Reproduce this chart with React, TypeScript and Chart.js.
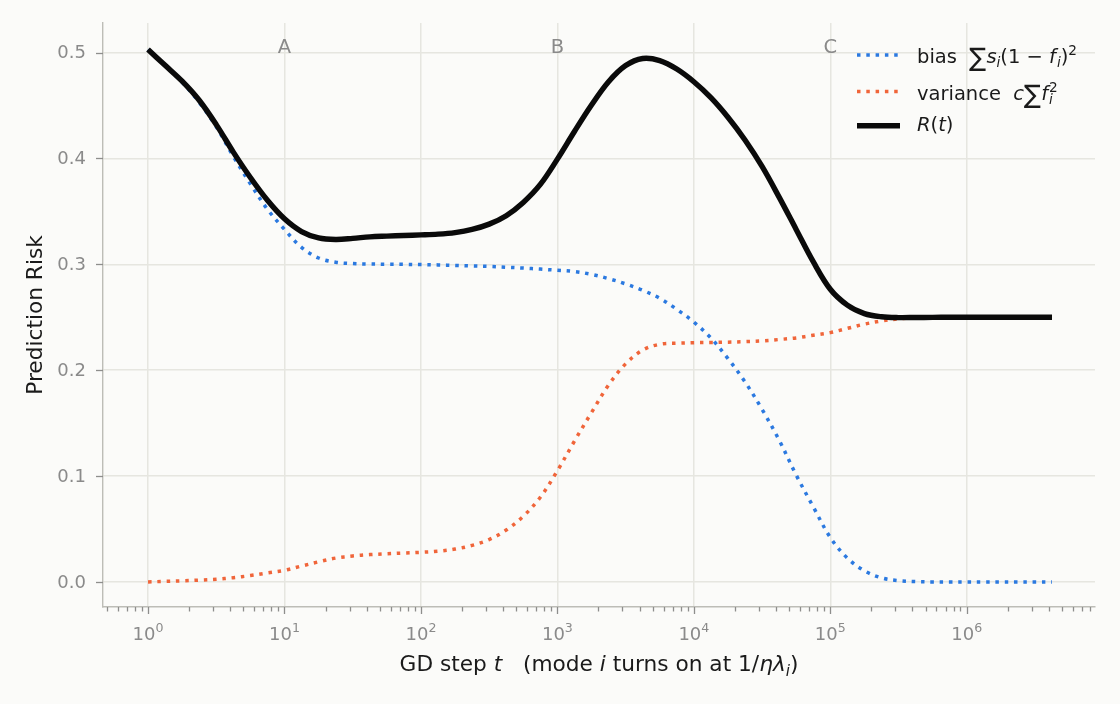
import React, { useEffect, useRef } from 'react';
import { Chart, registerables } from 'chart.js';

Chart.register(...registerables);

// ---- data (x given as log10 of the GD step t) ----
const logSteps = [
  0, 0.125, 0.25, 0.375, 0.5, 0.625, 0.75, 0.875,
  1, 1.125, 1.25, 1.375, 1.5, 1.625, 1.75, 1.875,
  2, 2.125, 2.25, 2.375, 2.5, 2.625, 2.75, 2.875,
  3, 3.125, 3.25, 3.375, 3.5, 3.625, 3.75, 3.875,
  4, 4.125, 4.25, 4.375, 4.5, 4.625, 4.75, 4.875,
  5, 5.125, 5.25, 5.375, 5.5, 5.625, 5.75, 5.875,
  6, 6.125, 6.25, 6.375, 6.5, 6.625,
];

const biasValues = [
  0.503, 0.488, 0.472, 0.453, 0.430, 0.402, 0.376, 0.352,
  0.333, 0.316, 0.306, 0.302, 0.3007, 0.3003, 0.3001, 0.300,
  0.2998, 0.2995, 0.299, 0.2985, 0.298, 0.2973, 0.2965, 0.2955,
  0.2944, 0.2932, 0.2905, 0.2865, 0.2815, 0.2755, 0.268, 0.2575,
  0.2455, 0.2305, 0.211, 0.189, 0.163, 0.134, 0.101, 0.071,
  0.042, 0.0225, 0.0105, 0.0038, 0.0012, 0.0003, 0, 0,
  0, 0, 0, 0, 0, 0,
];

const varianceValues = [
  0.0, 0.0005, 0.001, 0.0017, 0.0025, 0.004, 0.006, 0.0085,
  0.011, 0.015, 0.019, 0.0225, 0.0245, 0.0258, 0.0266, 0.0273,
  0.028, 0.029, 0.031, 0.0345, 0.040, 0.049, 0.062, 0.080,
  0.105, 0.133, 0.160, 0.186, 0.206, 0.219, 0.2245, 0.2255,
  0.226, 0.2262, 0.2265, 0.227, 0.2277, 0.229, 0.2305, 0.233,
  0.2355, 0.2395, 0.2435, 0.2465, 0.2485, 0.2495, 0.2499, 0.25,
  0.25, 0.25, 0.25, 0.25, 0.25, 0.25,
];

const riskValues = [
  0.503, 0.488, 0.473, 0.455, 0.432, 0.406, 0.382, 0.3605,
  0.343, 0.331, 0.325, 0.3235, 0.3245, 0.326, 0.3267, 0.3273,
  0.3278, 0.3285, 0.330, 0.333, 0.338, 0.346, 0.3585, 0.3755,
  0.3994, 0.4255, 0.4505, 0.4725, 0.4878, 0.4945, 0.4925, 0.4845,
  0.4725, 0.4575, 0.439, 0.4175, 0.3925, 0.3635, 0.333, 0.3025,
  0.2765, 0.2615, 0.2535, 0.2505, 0.2497, 0.2498, 0.2499, 0.25,
  0.25, 0.25, 0.25, 0.25, 0.25, 0.25,
];

const xDecadeExponents = [0, 1, 2, 3, 4, 5, 6];
const xTickSuperscripts = ['0', '1', '2', '3', '4', '5', '6'];
const yTickValues = [0, 0.1, 0.2, 0.3, 0.4, 0.5];
const yTickLabels = ['0.0', '0.1', '0.2', '0.3', '0.4', '0.5'];
const phaseLabels = ['A', 'B', 'C'];
const phaseSteps = [10, 1000, 100000];

const X_MIN = Math.pow(10, -0.33);
const X_MAX = Math.pow(10, 6.94);
const Y_MIN = -0.0237;
const Y_MAX = 0.528;

const FONT = '"DejaVu Sans", sans-serif';
const BG = '#fbfbf9';
const GRID = '#e6e6e0';
const SPINE = '#bdbdb7';
const TICK = '#8e8e8c';
const TICK_TEXT = '#8a8a8a';
const DARK = '#1a1a1a';
const BLUE = '#2b79e0';
const ORANGE = '#f0653a';

type Seg = {
  t: string;
  it?: boolean;
  sub?: boolean;
  sup?: boolean;
  noAdvance?: boolean;
  gap?: number;
  scale?: number;
  dy?: number;
};

function drawRich(
  ctx: CanvasRenderingContext2D,
  segs: Seg[],
  x: number,
  y: number,
  size: number,
  color: string,
  align: 'left' | 'center'
) {
  const fontFor = (s: Seg) => {
    const sz = s.sub || s.sup ? size * 0.7 : size * (s.scale || 1);
    return `${s.it ? 'italic ' : ''}${sz}px ${FONT}`;
  };
  let total = 0;
  for (const s of segs) {
    ctx.font = fontFor(s);
    if (!s.noAdvance) total += ctx.measureText(s.t).width + (s.gap || 0);
  }
  let cx = align === 'center' ? x - total / 2 : x;
  ctx.fillStyle = color;
  ctx.textAlign = 'left';
  ctx.textBaseline = 'alphabetic';
  for (const s of segs) {
    ctx.font = fontFor(s);
    const dy = s.sub ? size * 0.22 : s.sup ? -size * 0.42 : s.dy || 0;
    ctx.fillText(s.t, cx, y + dy);
    if (!s.noAdvance) cx += ctx.measureText(s.t).width + (s.gap || 0);
  }
}

const decorPlugin = {
  id: 'decor',
  beforeDraw(chart: any) {
    const ctx = chart.ctx as CanvasRenderingContext2D;
    ctx.save();
    ctx.fillStyle = BG;
    ctx.fillRect(0, 0, chart.width, chart.height);
    ctx.restore();
  },
  afterDraw(chart: any) {
    const ctx = chart.ctx as CanvasRenderingContext2D;
    const xs = chart.scales.x;
    const ys = chart.scales.y;
    const area = chart.chartArea;
    ctx.save();

    // x ticks (major + minor)
    ctx.strokeStyle = TICK;
    ctx.lineWidth = 1.3;
    for (let k = -1; k <= 7; k++) {
      for (let m = 1; m <= 9; m++) {
        const v = m * Math.pow(10, k);
        if (v < X_MIN || v > X_MAX) continue;
        const px = Math.round(xs.getPixelForValue(v)) + 0.5;
        const len = m === 1 ? 7 : 4.5;
        ctx.beginPath();
        ctx.moveTo(px, area.bottom);
        ctx.lineTo(px, area.bottom + len);
        ctx.stroke();
      }
    }
    // y ticks
    for (const v of yTickValues) {
      const py = Math.round(ys.getPixelForValue(v)) + 0.5;
      ctx.beginPath();
      ctx.moveTo(area.left, py);
      ctx.lineTo(area.left - 7, py);
      ctx.stroke();
    }

    // y tick labels
    ctx.fillStyle = TICK_TEXT;
    ctx.font = `18px ${FONT}`;
    ctx.textAlign = 'right';
    ctx.textBaseline = 'middle';
    yTickValues.forEach((v, i) => {
      ctx.fillText(yTickLabels[i], area.left - 17, ys.getPixelForValue(v) + 1);
    });

    // x tick labels 10^k
    xDecadeExponents.forEach((e, i) => {
      const px = xs.getPixelForValue(Math.pow(10, e));
      drawRich(ctx, [{ t: '10' }, { t: xTickSuperscripts[i], sup: true }], px, 640, 18, TICK_TEXT, 'center');
    });

    // phase labels
    ctx.fillStyle = '#8a8a8a';
    ctx.font = `19.5px ${FONT}`;
    ctx.textAlign = 'center';
    ctx.textBaseline = 'alphabetic';
    phaseSteps.forEach((s, i) => {
      ctx.fillText(phaseLabels[i], xs.getPixelForValue(s), ys.getPixelForValue(0.5) + 0.5);
    });

    // axis titles
    drawRich(
      ctx,
      [
        { t: 'GD step ' },
        { t: 't', it: true },
        { t: '   (mode ' },
        { t: 'i', it: true },
        { t: ' turns on at 1/' },
        { t: 'ηλ', it: true },
        { t: 'i', it: true, sub: true },
        { t: ')' },
      ],
      (area.left + area.right) / 2,
      671,
      21.7,
      DARK,
      'center'
    );
    ctx.save();
    ctx.translate(41.5, (area.top + area.bottom) / 2);
    ctx.rotate(-Math.PI / 2);
    ctx.fillStyle = DARK;
    ctx.font = `21.7px ${FONT}`;
    ctx.textAlign = 'center';
    ctx.textBaseline = 'alphabetic';
    ctx.fillText('Prediction Risk', 0, 0);
    ctx.restore();

    // legend
    const lx0 = 857;
    const lx1 = 900;
    const tx = 917;
    const rows = [
      { y: 55, color: BLUE, dash: [3.5, 5.8], w: 3.5, base: 63 },
      { y: 91.5, color: ORANGE, dash: [3.5, 5.8], w: 3.5, base: 99.7 },
      { y: 125.7, color: '#0a0a0a', dash: [], w: 5.4, base: 130.5 },
    ];
    rows.forEach((r) => {
      ctx.save();
      ctx.strokeStyle = r.color;
      ctx.lineWidth = r.w;
      ctx.setLineDash(r.dash);
      ctx.beginPath();
      ctx.moveTo(lx0, r.y);
      ctx.lineTo(lx1, r.y);
      ctx.stroke();
      ctx.restore();
    });
    const LS = 19.5;
    drawRich(
      ctx,
      [
        { t: 'bias  ' },
        { t: '∑', scale: 1.3, dy: 3 },
        { t: 's', it: true },
        { t: 'i', it: true, sub: true },
        { t: '(1 − ' },
        { t: 'f', it: true, gap: 1 },
        { t: 'i', it: true, sub: true },
        { t: ')' },
        { t: '2', sup: true },
      ],
      tx,
      rows[0].base,
      LS,
      DARK,
      'left'
    );
    drawRich(
      ctx,
      [
        { t: 'variance  ' },
        { t: 'c', it: true },
        { t: '∑', scale: 1.3, dy: 3 },
        { t: 'f', it: true, gap: 1 },
        { t: 'i', it: true, sub: true, noAdvance: true },
        { t: '2', sup: true },
      ],
      tx,
      rows[1].base,
      LS,
      DARK,
      'left'
    );
    drawRich(
      ctx,
      [{ t: 'R', it: true }, { t: '(' }, { t: 't', it: true }, { t: ')' }],
      tx,
      rows[2].base,
      LS,
      DARK,
      'left'
    );

    ctx.restore();
  },
};

export default function App() {
  const canvasRef = useRef<HTMLCanvasElement | null>(null);

  useEffect(() => {
    document.body.style.margin = '0';
    document.body.style.background = BG;
    const canvas = canvasRef.current;
    if (!canvas) return;

    const toPoints = (vals: number[]) => logSteps.map((e, i) => ({ x: Math.pow(10, e), y: vals[i] }));

    const chart = new Chart(canvas, {
      type: 'line',
      data: {
        datasets: [
          {
            label: 'R(t)',
            data: toPoints(riskValues),
            borderColor: '#0a0a0a',
            borderWidth: 5.4,
            pointRadius: 0,
            fill: false,
            tension: 0.35,
            borderJoinStyle: 'round',
            order: 0,
          },
          {
            label: 'bias',
            data: toPoints(biasValues),
            borderColor: BLUE,
            borderWidth: 3.5,
            borderDash: [3.5, 5.8],
            pointRadius: 0,
            fill: false,
            tension: 0.35,
            order: 1,
          },
          {
            label: 'variance',
            data: toPoints(varianceValues),
            borderColor: ORANGE,
            borderWidth: 3.5,
            borderDash: [3.5, 5.8],
            pointRadius: 0,
            fill: false,
            tension: 0.35,
            order: 2,
          },
        ],
      },
      options: {
        animation: false,
        responsive: false,
        devicePixelRatio: 1,
        layout: { padding: { top: 23, right: 25, bottom: 0, left: 0 } },
        plugins: {
          legend: { display: false },
          tooltip: { enabled: false },
          title: { display: false },
        },
        events: [],
        scales: {
          x: {
            type: 'logarithmic',
            min: X_MIN,
            max: X_MAX,
            afterBuildTicks: (scale: any) => {
              scale.ticks = xDecadeExponents.map((e) => ({ value: Math.pow(10, e) }));
            },
            afterFit: (scale: any) => {
              scale.height = 97;
            },
            ticks: { display: false },
            grid: { color: GRID, lineWidth: 1.5, drawTicks: false },
            border: { display: true, color: SPINE, width: 1.4 },
          },
          y: {
            type: 'linear',
            min: Y_MIN,
            max: Y_MAX,
            afterBuildTicks: (scale: any) => {
              scale.ticks = yTickValues.map((v) => ({ value: v }));
            },
            afterFit: (scale: any) => {
              scale.width = 103;
            },
            ticks: { display: false },
            grid: { color: GRID, lineWidth: 1.5, drawTicks: false },
            border: { display: true, color: SPINE, width: 1.4 },
          },
        },
      } as any,
      plugins: [decorPlugin],
    });

    return () => chart.destroy();
  }, []);

  return (
    <div style={{ width: 1120, height: 704, background: BG }}>
      <canvas ref={canvasRef} width={1120} height={704} style={{ display: 'block', width: 1120, height: 704 }} />
    </div>
  );
}
